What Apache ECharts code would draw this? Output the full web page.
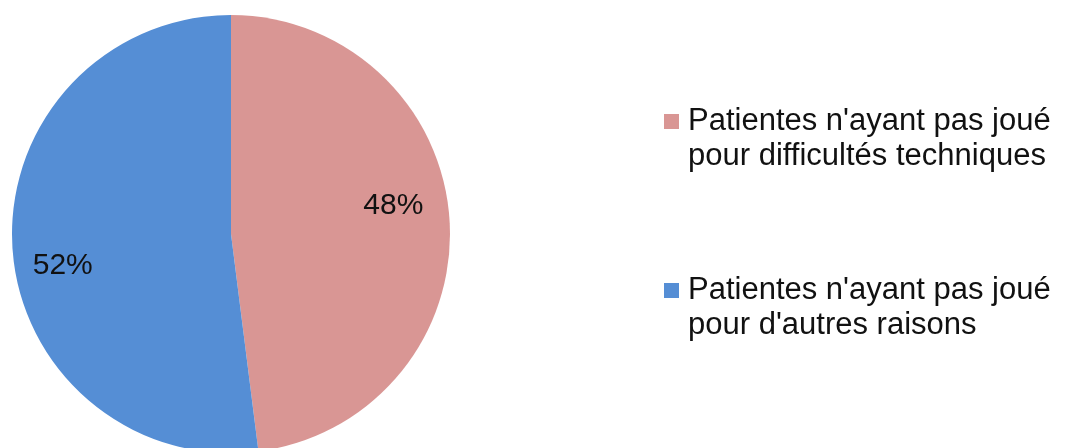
<!DOCTYPE html>
<html>
<head>
<meta charset="utf-8">
<script src="https://cdn.jsdelivr.net/npm/echarts@6/dist/echarts.min.js"></script>
<style>
html,body{margin:0;padding:0;background:#fff;}
#chart{width:1070px;height:448px;}
</style>
</head>
<body>
<div id="chart"></div>
<script>
const categories = [
  "Patientes n'ayant pas joué\npour difficultés techniques",
  "Patientes n'ayant pas joué\npour d'autres raisons"
];
const values = [48, 52];
const colors = ['#d99694', '#558ed5'];
const labelShift = [[50, -21], [-56, 25]];

const chart = echarts.init(document.getElementById('chart'), null, {renderer: 'canvas'});
chart.setOption({
  animation: false,
  backgroundColor: '#ffffff',
  legend: {
    orient: 'vertical',
    left: 664,
    top: 69,
    padding: 0,
    itemWidth: 15,
    itemHeight: 15,
    itemGap: 64,
    icon: 'rect',
    data: categories,
    formatter: function (name) { return '\n' + name; },
    textStyle: {
      fontFamily: 'Liberation Sans, Arial, sans-serif',
      fontSize: 31,
      lineHeight: 35,
      color: '#111',
      padding: [0, 0, 0, 4]
    }
  },
  series: [{
    type: 'pie',
    center: [231, 234],
    radius: 219,
    startAngle: 90,
    clockwise: true,
    silent: true,
    label: {
      show: true,
      position: 'inside',
      formatter: '{c}%',
      fontFamily: 'Liberation Sans, Arial, sans-serif',
      fontSize: 30,
      color: '#111'
    },
    labelLayout: function (p) {
      const s = labelShift[p.dataIndex];
      return {dx: s[0], dy: s[1]};
    },
    labelLine: {show: false},
    itemStyle: {borderWidth: 0},
    data: categories.map((c, i) => ({name: c, value: values[i], itemStyle: {color: colors[i]}}))
  }]
});
</script>
</body>
</html>
